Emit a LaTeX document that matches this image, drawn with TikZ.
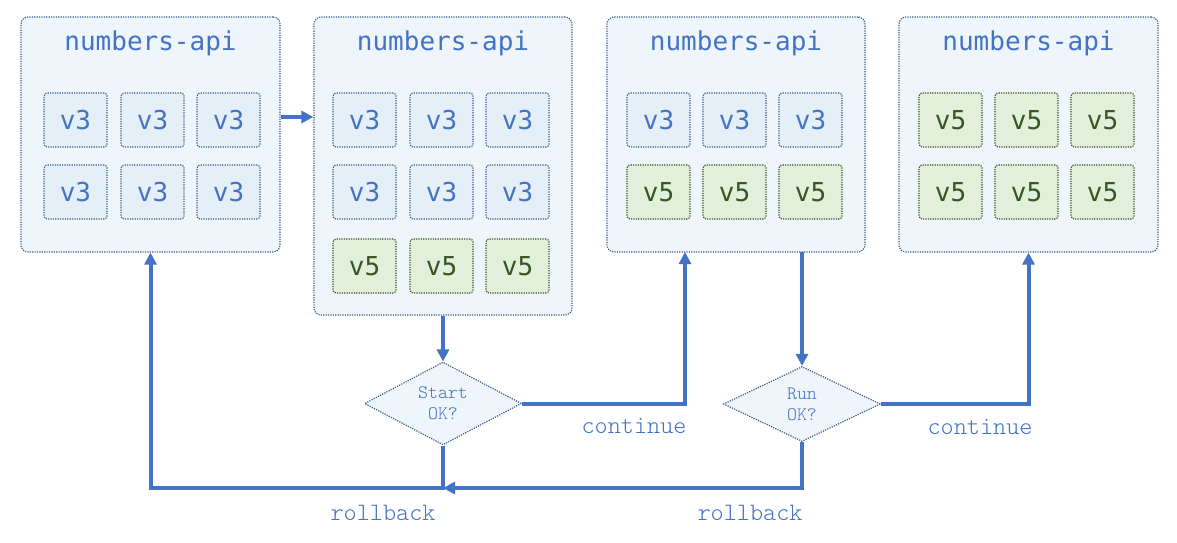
\documentclass[tikz,border=0pt]{standalone}
\usepackage{fontspec}
\usetikzlibrary{shapes.geometric,arrows.meta,calc}
\newfontfamily\titlefont{DejaVu Sans Mono}
\newfontfamily\lblfont{Latin Modern Mono Light}
\definecolor{lineblue}{RGB}{68,114,196}
\definecolor{contfill}{RGB}{238,245,251}
\definecolor{boxfill}{RGB}{229,239,248}
\definecolor{dotborder}{RGB}{60,95,135}
\definecolor{greenfill}{RGB}{226,239,218}
\definecolor{greenborder}{RGB}{56,87,35}
\definecolor{greentext}{RGB}{55,86,35}
\tikzset{
  container/.style={draw=dotborder, fill=contfill, line width=1.2pt, dash pattern=on 1.2pt off 1.2pt, rounded corners=7pt, inner sep=0pt},
  title/.style={text=lineblue, font=\titlefont\fontsize{26}{30}\selectfont, inner sep=0pt},
  vthree/.style={draw=dotborder, fill=boxfill, line width=1.2pt, dash pattern=on 1.2pt off 1.2pt, rounded corners=3pt, minimum width=63pt, minimum height=54pt, inner sep=0pt, text=lineblue, font=\titlefont\fontsize{26}{30}\selectfont},
  vfive/.style={draw=greenborder, fill=greenfill, line width=1.2pt, dash pattern=on 1.2pt off 1.2pt, rounded corners=3pt, minimum width=63pt, minimum height=54pt, inner sep=0pt, text=greentext, font=\titlefont\fontsize{26}{30}\selectfont},
  decision/.style={diamond, draw=dotborder, fill=contfill, line width=1.2pt, dash pattern=on 1.2pt off 1.2pt, minimum width=157pt, minimum height=75pt, inner sep=0pt, align=center, text=lineblue, font=\lblfont\fontsize{19}{21}\selectfont},
  arr/.style={draw=lineblue, line width=4pt, -{Triangle[length=12pt,width=12pt]}},
  lbl/.style={text=lineblue, font=\lblfont\fontsize{25}{28}\selectfont, inner sep=0pt}
}
\begin{document}
\begin{tikzpicture}[x=1pt,y=-1pt]
\useasboundingbox (0,0) rectangle (1177,543);
% containers
\node[container, minimum width=259pt, minimum height=235pt] (c1) at (150.5,134.5) {};
\node[container, minimum width=258pt, minimum height=298pt] (c2) at (443,166) {};
\node[container, minimum width=258pt, minimum height=235pt] (c3) at (736,134.5) {};
\node[container, minimum width=259pt, minimum height=235pt] (c4) at (1028.5,134.5) {};
\node[title] (t1) at (150.5,43) {numbers-api};
\node[title] (t2) at (443,43) {numbers-api};
\node[title] (t3) at (736,43) {numbers-api};
\node[title] (t4) at (1028.5,43) {numbers-api};
% container 1
\node[vthree] (a11) at (75.5,120) {v3};
\node[vthree] (a12) at (152.5,120) {v3};
\node[vthree] (a13) at (228.5,120) {v3};
\node[vthree] (a21) at (75.5,192) {v3};
\node[vthree] (a22) at (152.5,192) {v3};
\node[vthree] (a23) at (228.5,192) {v3};
% container 2
\node[vthree] (b11) at (364.5,120) {v3};
\node[vthree] (b12) at (441.5,120) {v3};
\node[vthree] (b13) at (517.5,120) {v3};
\node[vthree] (b21) at (364.5,192) {v3};
\node[vthree] (b22) at (441.5,192) {v3};
\node[vthree] (b23) at (517.5,192) {v3};
\node[vfive] (b31) at (364.5,266) {v5};
\node[vfive] (b32) at (441.5,266) {v5};
\node[vfive] (b33) at (517.5,266) {v5};
% container 3
\node[vthree] (e11) at (658.5,120) {v3};
\node[vthree] (e12) at (734.5,120) {v3};
\node[vthree] (e13) at (810.5,120) {v3};
\node[vfive] (e21) at (658.5,192) {v5};
\node[vfive] (e22) at (734.5,192) {v5};
\node[vfive] (e23) at (810.5,192) {v5};
% container 4
\node[vfive] (f11) at (950.5,120) {v5};
\node[vfive] (f12) at (1026.5,120) {v5};
\node[vfive] (f13) at (1102.5,120) {v5};
\node[vfive] (f21) at (950.5,192) {v5};
\node[vfive] (f22) at (1026.5,192) {v5};
\node[vfive] (f23) at (1102.5,192) {v5};
% decisions
\node[decision] (d1) at (443,403.5) {Start\\OK?};
\node[decision] (d2) at (802,404) {Run\\OK?};
% coordinates
\coordinate (c3in) at (685,252);
\coordinate (c3out) at (802,252);
\coordinate (yb) at (0,488);
\coordinate (ya) at (0,117);
% connectors
\draw[arr] (c1.east |- ya) -- (c2.west |- ya);
\draw[arr] (c2.south) -- (d1.north);
\draw[arr] (d1.east) -| (c3in);
\draw[arr] (d1.south) |- (yb -| c1.south) -- (c1.south);
\draw[arr] (c3out) -- (d2.north);
\draw[arr] (d2.east) -| (c4.south);
\draw[arr] (d2.south) |- (yb -| d1.south);
% labels
\node[lbl] (l1) at (634,426) {continue};
\node[lbl] (l2) at (980,427) {continue};
\node[lbl] (l3) at (383,513) {rollback};
\node[lbl] (l4) at (750,513) {rollback};
\end{tikzpicture}
\end{document}
